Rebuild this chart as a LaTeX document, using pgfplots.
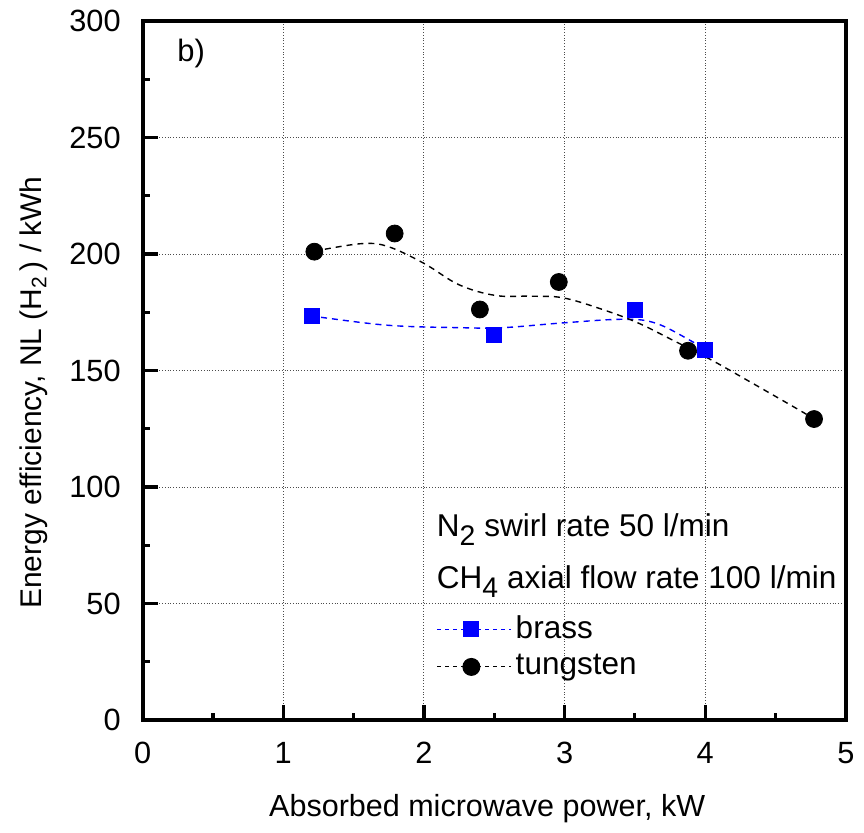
\documentclass[border=0pt]{standalone}
\usepackage{pgfplots}
\pgfplotsset{compat=1.18}
\usepackage{fontspec}
\setmainfont{Liberation Sans}
\usepackage{graphicx}
\newcommand{\sub}[1]{\raisebox{-0.55ex}{\scalebox{0.9}{#1}}}
\begin{document}
\fontsize{14.5bp}{17bp}\selectfont
\begin{tikzpicture}
\begin{axis}[
  scale only axis, width=352.5bp, height=350.5bp,
  xmin=0, xmax=5, ymin=0, ymax=300,
  xtick={0,1,2,3,4,5}, ytick={0,50,100,150,200,250,300},
  minor x tick num=1, minor y tick num=1,
  xtick pos=left, ytick pos=left,
  tick align=inside, major tick length=7.5bp, minor tick length=3.5bp,
  axis line style={line width=2bp},
  every tick/.style={line width=1.6bp, black},
  grid=major, major grid style={densely dotted, black!70, line width=0.5bp},
  tick label style={font=\fontsize{15.4bp}{18bp}\selectfont},
  /pgf/number format/assume math mode=true,
  xticklabel style={yshift=-6bp},
  yticklabel style={xshift=-6bp},
  xlabel={Absorbed microwave power, kW},
  ylabel={Energy efficiency, NL (H\textsubscript{2}\,) / kWh},
  xlabel style={font=\fontsize{15.3bp}{18bp}\selectfont, at={(axis description cs:0.49,0)}, anchor=base, yshift=-48.5bp},
  ylabel style={font=\fontsize{15bp}{18bp}\selectfont, at={(axis description cs:-0.1546,0.4686)}, anchor=center},
  legend style={at={(axis description cs:0.418,0.156)}, anchor=north west,
    draw=none, fill=none, inner sep=0pt, row sep=2bp,
    font=\fontsize{15.8bp}{17.5bp}\selectfont},
  legend cell align=left,
  legend image code/.code={\draw[#1, mark repeat=2, mark phase=2]
      plot coordinates {(0bp,0bp) (17bp,0bp) (34.5bp,0bp)};
      \path (0bp,0bp) -- (37bp,0bp);},
  clip=false,
]
% smooth curves
\addplot[blue, line width=0.7bp, dash pattern=on 3bp off 2.5bp, smooth, tension=0.6, forget plot]
  coordinates {(1.20,173.4) (1.26,172.9) (1.75,169.4) (2.25,168.4) (2.56,168.4) (3.0,170.5) (3.42,172.0) (3.65,170.3) (3.9,162.7) (4.0,158.9)};
\addplot[black, line width=0.7bp, dash pattern=on 3bp off 2.5bp, smooth, tension=0.6, forget plot]
  coordinates {(1.22,201.0) (1.29,202.0) (1.57,204.5) (1.75,203.1) (2.0,196.0) (2.25,186.8) (2.51,182.2) (2.76,181.9) (2.99,181.2) (3.27,176.2) (3.52,170.5) (3.78,162.7) (4.03,155.0) (4.28,146.5) (4.69,132.3) (4.77,129.2)};
% markers
\addplot[only marks, mark=square*, mark size=3.75bp, blue, forget plot]
  coordinates {(1.203,173.4) (2.50,165.3) (3.497,175.9) (3.998,158.9)};
\addplot[only marks, mark=*, mark size=4.25bp, black, forget plot]
  coordinates {(1.221,201.0) (1.792,208.8) (2.398,176.2) (2.959,188.0) (3.878,158.5) (4.774,129.2)};
\addlegendimage{blue, line width=0.5bp, dash pattern=on 2bp off 2bp, mark=square*, mark size=3.75bp, mark options={solid}}
\addlegendentry{brass}
\addlegendimage{black, line width=0.5bp, dash pattern=on 2bp off 2bp, mark=*, mark size=4.25bp, mark options={solid}}
\addlegendentry{tungsten}
\node[anchor=base west, inner sep=0pt, font=\fontsize{15.8bp}{17bp}\selectfont] at (axis cs:2.09,79) {N\sub{2} swirl rate 50 l/min};
\node[anchor=base west, inner sep=0pt, font=\fontsize{15.8bp}{17bp}\selectfont] at (axis cs:2.09,56.5) {CH\sub{4} axial flow rate 100 l/min};
\node[anchor=base west, inner sep=0pt, font=\fontsize{15.5bp}{17bp}\selectfont] at (axis cs:0.245,282.4) {b)};
\end{axis}
\path ([xshift=-71.5bp,yshift=-51bp]current axis.south west) rectangle ([xshift=8bp,yshift=10.5bp]current axis.north east);
\end{tikzpicture}
\end{document}
